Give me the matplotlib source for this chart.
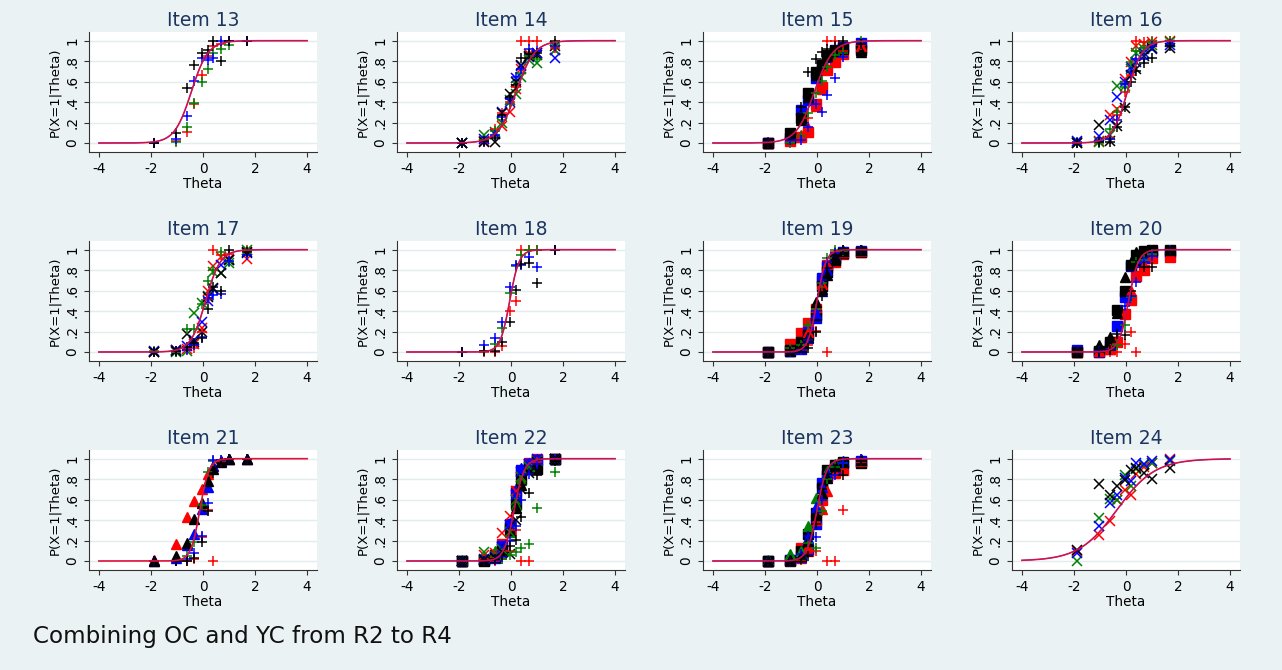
import numpy as np
import matplotlib
matplotlib.use("Agg")
import matplotlib.pyplot as plt

# observed proportions at these ability groups
theta = [-1.9, -1.05, -0.63, -0.33, -0.05, 0.18, 0.4, 0.69, 1.0, 1.68]

# rows: black, blue, red, green  (None = no point)
item13_plus = [[0.0, 0.10, 0.54, 0.76, 0.88, 0.91, 1.0, 0.80, 1.0, 1.0],
               [0.0, 0.04, 0.26, 0.61, 0.83, 0.81, 0.83, 1.0, 1.0, 1.0],
               [0.0, 0.02, 0.11, 0.38, 0.66, 0.85, 0.95, 0.97, 1.0, 1.0],
               [0.0, 0.01, 0.16, 0.39, 0.60, 0.72, 0.88, 0.92, 0.96, 1.0]]

item14_plus = [[0.0, 0.02, 0.05, 0.27, 0.45, 0.57, 0.83, 0.87, 0.88, 1.0],
               [0.0, 0.01, 0.08, 0.25, 0.43, 0.65, 0.72, 0.92, 0.90, 0.95],
               [0.0, 0.01, 0.14, 0.29, 0.40, 0.55, 1.0, 1.0, 1.0, 0.93],
               [0.0, 0.03, 0.12, 0.22, 0.38, 0.60, 0.68, 0.85, 0.82, 0.97]]
item14_x = [[0.0, 0.01, 0.01, 0.29, 0.48, 0.60, 0.76, 0.85, 0.86, 0.95],
            [0.0, 0.04, 0.09, 0.30, 0.40, 0.64, 0.75, 0.84, 0.88, 0.83],
            [0.0, 0.02, 0.09, 0.17, 0.30, 0.53, 0.72, 0.87, 0.88, 0.91],
            [0.0, 0.08, 0.11, 0.20, 0.42, 0.48, 0.65, 0.81, 0.78, 0.91]]

item15_sq = [[0.0, 0.10, 0.24, 0.49, 0.69, 0.76, 0.86, 0.90, 0.93, 0.91],
             [0.0, 0.05, 0.32, 0.42, 0.64, 0.75, 0.84, 0.91, 0.94, 0.98],
             [0.0, 0.02, 0.06, 0.11, 0.38, 0.55, 0.71, 0.79, 0.87, 0.93],
             None]
item15_tri = [[0.0, 0.05, 0.22, 0.45, 0.66, 0.78, 0.85, 0.90, 0.92, 0.89],
              None,
              [0.0, 0.03, 0.08, 0.15, 0.36, 0.53, 0.72, 0.80, 0.88, 0.95],
              None]
item15_plus = [[0.0, 0.08, 0.35, 0.69, 0.82, 0.89, 0.92, 0.95, 1.0, 0.97],
               [0.01, 0.03, 0.03, 0.16, 0.38, 0.30, 0.47, 0.64, 0.84, 0.97],
               [0.0, 0.01, 0.06, 0.24, 0.36, 0.58, 1.0, 1.0, 0.90, 0.96],
               [0.0, 0.0, 0.07, 0.29, 0.49, 0.61, 0.74, 0.86, 0.88, 1.0]]

item16_x = [[0.0, 0.18, 0.02, 0.17, 0.34, 0.66, 0.72, 0.85, 0.93, 0.93],
            [0.02, 0.07, 0.22, 0.45, 0.60, 0.74, 0.79, 0.88, 0.92, 0.96],
            [0.01, 0.02, 0.27, 0.33, 0.63, 0.79, 0.95, 0.97, 0.99, 1.0],
            [0.0, 0.01, 0.08, 0.56, 0.56, 0.72, 0.88, 0.92, 0.96, 0.99]]
item16_plus = [[0.0, 0.01, 0.01, 0.16, 0.35, 0.60, 0.70, 0.78, 0.83, 0.95],
               [0.01, 0.02, 0.04, 0.22, 0.58, 0.69, 0.82, 0.82, 0.95, 0.97],
               [0.0, 0.01, 0.05, 0.27, 0.50, 0.66, 1.0, 0.99, 1.0, 1.0],
               [0.0, 0.0, 0.14, 0.30, 0.55, 0.79, 0.90, 0.93, 0.99, 1.0]]

item17_plus = [[0.0, 0.01, 0.05, 0.09, 0.14, 0.42, 0.64, 0.60, 1.0, 0.98],
               [0.0, 0.01, 0.02, 0.07, 0.15, 0.53, 0.56, 0.57, 0.89, 0.95],
               [0.0, 0.0, 0.03, 0.04, 0.20, 0.52, 1.0, 0.95, 0.96, 1.0],
               [0.01, 0.0, 0.22, 0.22, 0.47, 0.69, 0.80, 0.98, 0.88, 0.99]]
item17_x = [[0.0, 0.01, 0.18, 0.10, 0.20, 0.54, 0.63, 0.77, 0.90, 0.98],
            [0.01, 0.02, 0.06, 0.12, 0.29, 0.50, 0.62, 0.85, 0.90, 0.97],
            [0.0, 0.02, 0.03, 0.08, 0.23, 0.60, 0.84, 0.93, 0.91, 0.91],
            [0.0, 0.0, 0.01, 0.38, 0.48, 0.55, 0.78, 0.77, 0.87, 1.0]]

item18_plus = [[0.0, 0.01, 0.01, 0.10, 0.29, 0.61, 0.86, 0.87, 0.67, 1.0],
               [0.0, 0.07, 0.14, 0.29, 0.64, 0.85, 0.85, 0.93, 0.83, 1.0],
               [0.0, 0.0, 0.0, 0.06, 0.40, 0.50, 1.0, 1.0, 1.0, 1.0],
               [0.0, 0.01, 0.08, 0.23, 0.58, 0.84, 0.95, 1.0, 1.0, 1.0]]

item19_sq = [[0.0, 0.02, 0.10, 0.17, 0.36, 0.65, 0.78, 0.90, 0.97, 0.98],
             [0.0, 0.01, 0.03, 0.20, 0.33, 0.72, 0.83, 0.92, 0.98, 0.99],
             [0.0, 0.08, 0.19, 0.28, 0.42, 0.69, 0.85, 0.88, 0.96, 0.98],
             None]
item19_tri = [[0.0, 0.01, 0.05, 0.15, 0.49, 0.62, 0.75, 0.93, 0.99, 1.0],
              [0.0, 0.01, 0.04, 0.14, 0.38, 0.60, 0.80, 0.94, 0.99, 1.0],
              [0.0, 0.02, 0.06, 0.20, 0.44, 0.66, 0.86, 0.95, 0.98, 0.99],
              None]
item19_plus = [[0.0, 0.01, 0.04, 0.04, 0.20, 0.55, 0.82, 0.95, 1.0, 1.0],
               [0.0, 0.0, 0.02, 0.12, 0.40, 0.70, 0.88, 0.97, 1.0, 1.0],
               [0.0, 0.01, 0.02, 0.07, 0.21, 0.64, 0.0, 0.98, 1.0, 1.0],
               [0.0, 0.04, 0.07, 0.26, 0.42, 0.67, 0.92, 1.0, 0.99, 1.0]]

item20_sq = [[0.0, 0.01, 0.10, 0.41, 0.60, 0.85, 0.95, 0.99, 1.0, 1.0],
             [0.02, 0.0, 0.07, 0.25, 0.54, 0.84, 0.88, 0.92, 0.98, 0.98],
             [0.0, 0.0, 0.03, 0.10, 0.37, 0.51, 0.74, 0.80, 0.92, 0.93],
             None]
item20_tri = [[0.0, 0.07, 0.15, 0.38, 0.73, 0.88, 0.98, 0.99, 1.0, 1.0],
              None,
              [0.0, 0.01, 0.03, 0.13, 0.38, 0.60, 0.74, 0.85, 0.95, 0.97],
              None]
item20_plus = [[0.0, 0.0, 0.02, 0.18, 0.17, 0.60, 0.85, 0.83, 0.83, 0.99],
               [0.0, 0.01, 0.02, 0.21, 0.45, 0.55, 0.68, 0.88, 0.94, 1.0],
               [0.0, 0.0, 0.0, 0.0, 0.08, 0.20, 0.0, 0.88, 0.95, 1.0],
               [0.0, 0.0, 0.02, 0.07, 0.26, 0.54, 0.88, 0.90, 0.96, 1.0]]

item21_tri = [[0.0, 0.05, 0.18, 0.41, 0.57, 0.78, 0.90, 0.97, 1.0, 1.0],
              [0.0, 0.03, 0.16, 0.26, 0.51, 0.72, 0.93, 0.98, 1.0, 1.0],
              [0.01, 0.17, 0.43, 0.59, 0.70, 0.85, 0.93, 0.98, 1.0, 1.0],
              None]
item21_plus = [[0.0, 0.0, 0.0, 0.03, 0.19, 0.49, 0.86, 0.96, 1.0, 1.0],
               [0.0, 0.0, 0.02, 0.08, 0.24, 0.57, 0.99, 0.99, 1.0, 1.0],
               [0.0, 0.0, 0.0, 0.02, 0.23, 0.50, 0.0, 0.97, 1.0, 1.0],
               [0.0, 0.0, 0.05, 0.19, 0.55, 0.87, 0.98, 0.99, 1.0, 1.0]]

item22_sq = [[0.0, 0.0, 0.06, 0.10, 0.31, 0.56, 0.80, 0.91, 0.90, 1.0],
             [0.0, 0.01, 0.03, 0.15, 0.36, 0.66, 0.89, 0.95, 0.99, 1.0],
             [0.0, 0.01, 0.04, 0.17, 0.33, 0.68, 0.88, 0.96, 1.0, 1.0],
             None]
item22_tri = [[0.0, 0.01, 0.04, 0.12, 0.30, 0.52, 0.74, 0.90, 0.96, 1.0],
              [0.0, 0.02, 0.05, 0.15, 0.37, 0.70, 0.91, 0.96, 1.0, 1.0],
              None,
              [0.01, 0.03, 0.10, 0.13, 0.28, 0.55, 0.79, 0.93, 0.99, 1.0]]
item22_plus = [[0.0, 0.0, 0.02, 0.06, 0.15, 0.21, 0.43, 0.66, 0.84, 0.98],
               [0.0, 0.0, 0.01, 0.04, 0.20, 0.34, 0.60, 0.85, 0.95, 1.0],
               [0.0, 0.0, 0.0, 0.02, 0.10, 0.30, 0.0, 0.0, 0.97, 1.0],
               [0.0, 0.0, 0.03, 0.02, 0.06, 0.09, 0.13, 0.17, 0.52, 0.87]]
item22_x = [[0.0, 0.01, 0.03, 0.09, 0.07, 0.40, 0.70, 0.86, 0.97, 1.0],
            [0.0, 0.02, 0.04, 0.14, 0.35, 0.65, 0.87, 0.95, 1.0, 1.0],
            [0.0, 0.06, 0.08, 0.27, 0.44, 0.68, 0.82, 0.95, 0.99, 1.0],
            [0.0, 0.09, 0.05, 0.12, 0.28, 0.60, 0.82, 0.92, 0.98, 1.0]]

item23_sq = [[0.0, 0.0, 0.10, 0.26, 0.47, 0.71, 0.89, 0.94, 0.97, 0.96],
             [0.0, 0.01, 0.05, 0.12, 0.36, 0.76, 0.84, 0.91, 0.96, 0.98],
             [0.0, 0.01, 0.13, 0.10, 0.40, 0.60, 0.82, 0.87, 0.89, 0.97],
             None]
item23_tri = [[0.0, 0.01, 0.05, 0.20, 0.45, 0.66, 0.81, 0.93, 0.97, 0.99],
              [0.0, 0.01, 0.04, 0.22, 0.53, 0.72, 0.86, 0.94, 0.98, 1.0],
              [0.0, 0.01, 0.03, 0.15, 0.40, 0.51, 0.68, 0.86, 0.93, 0.98],
              [0.01, 0.07, 0.10, 0.34, 0.62, 0.65, 0.88, 0.95, 0.97, 0.99]]
item23_plus = [[0.0, 0.0, 0.02, 0.05, 0.36, 0.70, 0.85, 0.90, 0.84, 0.98],
               [0.0, 0.0, 0.07, 0.24, 0.23, 0.60, 0.85, 0.84, 0.96, 1.0],
               [0.0, 0.0, 0.01, 0.08, 0.10, 0.60, 0.0, 0.0, 0.50, 0.97],
               [0.0, 0.0, 0.02, 0.18, 0.13, 0.49, 0.80, 0.92, 0.96, 1.0]]

item24_x = [[0.11, 0.75, 0.65, 0.73, 0.79, 0.89, 0.91, 0.86, 0.80, 0.91],
            [0.08, 0.34, 0.57, 0.65, 0.81, 0.78, 0.96, 0.95, 0.98, 0.99],
            [0.10, 0.25, 0.39, 0.60, 0.69, 0.65, 0.85, 0.92, 0.96, 1.0],
            [0.0, 0.42, 0.61, 0.60, 0.84, 0.73, 0.90, 0.94, 0.96, 0.98]]

# estimated ICC parameters (slope a, location b), per item
items = [13, 14, 15, 16, 17, 18, 19, 20, 21, 22, 23, 24]
slope_a = [3.1, 2.85, 2.85, 3.5, 3.5, 5.5, 5.8, 5.3, 5.7, 5.2, 5.3, 1.37]
loc_b = [-0.45, 0.2, -0.1, 0.05, 0.1, -0.05, 0.0, 0.1, -0.12, 0.12, 0.0, -0.35]

series = {
    13: [("+", item13_plus)],
    14: [("x", item14_x), ("+", item14_plus)],
    15: [("s", item15_sq), ("^", item15_tri), ("+", item15_plus)],
    16: [("x", item16_x), ("+", item16_plus)],
    17: [("x", item17_x), ("+", item17_plus)],
    18: [("+", item18_plus)],
    19: [("s", item19_sq), ("^", item19_tri), ("+", item19_plus)],
    20: [("s", item20_sq), ("^", item20_tri), ("+", item20_plus)],
    21: [("^", item21_tri), ("+", item21_plus)],
    22: [("s", item22_sq), ("^", item22_tri), ("x", item22_x), ("+", item22_plus)],
    23: [("s", item23_sq), ("^", item23_tri), ("+", item23_plus)],
    24: [("x", item24_x)],
}

colors = ["#000000", "#0000FF", "#FF0000", "#008000"]
draw_order = [2, 3, 1, 0]
bg = "#EAF2F3"
title_col = "#1C3560"

plt.rcParams["font.family"] = "DejaVu Sans"

fig = plt.figure(figsize=(12.82, 6.70), dpi=100)
fig.patch.set_facecolor(bg)

W, H = 1282, 670
lefts = [89, 397, 703, 1012]
tops = [32, 241, 450]
pw, ph = 228, 120

grid_x = np.linspace(-4, 4, 200)

for k, item in enumerate(items):
    r, c = divmod(k, 4)
    ax = fig.add_axes([lefts[c] / W, 1 - (tops[r] + ph) / H, pw / W, ph / H])
    ax.set_facecolor("white")
    ax.set_xlim(-4.38, 4.38)
    ax.set_ylim(-0.088, 1.085)

    for yv in [0, 0.2, 0.4, 0.6, 0.8, 1.0]:
        ax.axhline(yv, color="#E3ECEF", lw=1.0, zorder=0)

    for marker, rows in series[item]:
        for ci in draw_order:
            vals = rows[ci]
            if vals is None:
                continue
            y = np.array(vals, dtype=float)
            if marker in ("+", "x"):
                ax.plot(theta, y, ls="none", marker=marker, ms=7, mew=1.1,
                        color=colors[ci], zorder=2)
            else:
                ax.plot(theta, y, ls="none", marker=marker, ms=7.2,
                        color=colors[ci], mec=colors[ci], zorder=2)

    # fitted curves: blue group underneath, red group on top
    p = 1 / (1 + np.exp(-slope_a[k] * (grid_x - loc_b[k])))
    if item != 21:
        ax.plot(grid_x, p, color="#0000FF", lw=0.7, zorder=3)
    ax.plot(grid_x, p, color="#E0103C", lw=1.2, alpha=0.9 if item != 21 else 1.0, zorder=4)

    ax.set_xticks([-4, -2, 0, 2, 4])
    ax.set_xticklabels(["-4", "-2", "0", "2", "4"])
    ax.set_yticks([0, 0.2, 0.4, 0.6, 0.8, 1.0])
    ax.set_yticklabels(["0", ".2", ".4", ".6", ".8", "1"], rotation=90, va="center")
    ax.tick_params(axis="both", length=3.6, width=0.8, pad=3.5, labelsize=9.8, color="#333333")
    for s in ["top", "right"]:
        ax.spines[s].set_visible(False)
    for s in ["left", "bottom"]:
        ax.spines[s].set_color("#333333")
        ax.spines[s].set_linewidth(0.8)

    ax.set_xlabel("Theta", fontsize=9.8, labelpad=1)
    ax.set_ylabel("P(X=1|Theta)", fontsize=9.5, labelpad=3)
    ax.set_title("Item %d" % item, fontsize=13.5, color=title_col, pad=4)

fig.text(33 / W, 1 - 636 / H, "Combining OC and YC from R2 to R4", fontsize=16.6,
         va="center", ha="left", color="#111111")

fig.savefig("out.png", dpi=100, facecolor=bg)
